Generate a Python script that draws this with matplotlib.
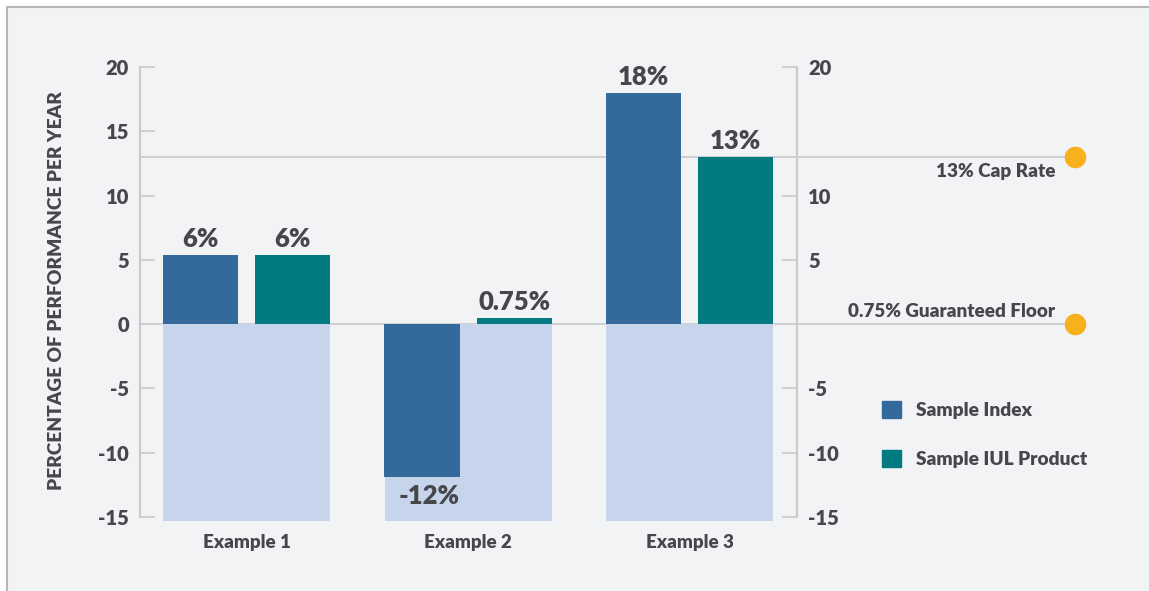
import matplotlib.pyplot as plt
import numpy as np
from matplotlib.patches import Patch, Rectangle
from matplotlib.lines import Line2D

categories = ['Example 1', 'Example 2', 'Example 3']
index_values = [5.4, -11.9, 18.0]
iul_values = [5.4, 0.45, 13.0]
index_labels = ['6%', '-12%', '18%']
iul_labels = ['6%', '0.75%', '13%']
range_low = -15.3
cap_rate = 13
floor_rate = 0
yticks_left = [-15, -10, -5, 0, 5, 10, 15, 20]
yticks_right = [-15, -10, -5, 5, 10, 20]

TEXT = '#45474B'
GRID = '#C9CACC'
BG = '#F2F3F5'
C_INDEX = '#34699C'
C_IUL = '#027B80'
C_RANGE = '#C6D4EC'
C_DOT = '#F8B01C'
W = 'heavy'

plt.rcParams['font.family'] = ['Lato', 'DejaVu Sans']
plt.rcParams['font.weight'] = W

fig = plt.figure(figsize=(11.49, 5.91), dpi=100)
fig.patch.set_facecolor('white')
# panel with a thin border on top/left
x0, y1 = 7 / 1149, 1 - 7 / 591
fig.patches.append(Rectangle((x0, 0), 1 - x0, y1, transform=fig.transFigure,
                             facecolor=BG, edgecolor='none', zorder=-10))
fig.lines.append(Line2D([x0, x0, 1], [0, y1, y1], transform=fig.transFigure,
                        color='#B5B6B8', lw=1.5, zorder=-9))

ax = fig.add_axes([140 / 1149, 74 / 591, 657 / 1149, 450 / 591])
ax.set_facecolor('none')

x = np.arange(len(categories))
bw = 0.339
off = 0.208

# light range bars behind each pair
ax.bar(x, [range_low] * len(x), width=0.754, color=C_RANGE, zorder=1, clip_on=False)

# reference lines for cap and floor
for val in (cap_rate, floor_rate):
    ax.plot([-0.481, 3.74], [val, val], color=GRID, lw=1.2, zorder=0.5, clip_on=False)
    ax.plot([3.74], [val], 'o', color=C_DOT, ms=14.5, zorder=3, clip_on=False)

ax.text(3.65, cap_rate - 0.45, '13% Cap Rate', ha='right', va='top',
        fontsize=13.6, color=TEXT, fontweight=W)
ax.text(3.65, floor_rate + 0.3, '0.75% Guaranteed Floor', ha='right', va='bottom',
        fontsize=13.6, color=TEXT, fontweight=W)

b1 = ax.bar(x - off, index_values, width=bw, color=C_INDEX, zorder=2)
b2 = ax.bar(x + off, iul_values, width=bw, color=C_IUL, zorder=2)

for rect, lab, v in zip(b1, index_labels, index_values):
    cx = rect.get_x() + rect.get_width() / 2
    if v >= 0:
        ax.annotate(lab, (cx, v), xytext=(0, 3), textcoords='offset points',
                    ha='center', va='bottom', fontsize=18.5, color=TEXT, fontweight=W)
    else:
        ax.annotate(lab, (cx + 0.03, v), xytext=(0, -5), textcoords='offset points',
                    ha='center', va='top', fontsize=18.5, color=TEXT, fontweight=W)
for rect, lab, v in zip(b2, iul_labels, iul_values):
    cx = rect.get_x() + rect.get_width() / 2
    ax.annotate(lab, (cx, v), xytext=(0, 3), textcoords='offset points',
                ha='center', va='bottom', fontsize=18.5, color=TEXT, fontweight=W)

ax.set_xlim(-0.481, 2.485)
ax.set_ylim(-15, 20)
ax.set_yticks(yticks_left)
ax.set_yticklabels([str(t) for t in yticks_left])
ax.set_xticks(x)
ax.set_xticklabels(categories)

ax2 = ax.twinx()
ax2.set_ylim(-15, 20)
ax2.set_yticks(yticks_right)
ax2.set_yticklabels([str(t) for t in yticks_right])

for a in (ax, ax2):
    for s in ('top', 'bottom'):
        a.spines[s].set_visible(False)
    for s in ('left', 'right'):
        a.spines[s].set_color(GRID)
        a.spines[s].set_linewidth(1.5)

ax.tick_params(axis='y', direction='in', length=11, width=1.2, color=GRID,
               labelsize=14.5, labelcolor=TEXT, pad=8)
ax2.tick_params(axis='y', direction='in', length=11, width=1.2, color=GRID,
                labelsize=14.5, labelcolor=TEXT, pad=8)
ax.tick_params(axis='x', length=0, labelsize=13.5, labelcolor=TEXT, pad=12)
for lab in ax.get_yticklabels() + ax.get_xticklabels() + ax2.get_yticklabels():
    lab.set_fontweight(W)

fig.text(57 / 1149, 1 - 291 / 591, 'PERCENTAGE OF PERFORMANCE PER YEAR', rotation=90,
         ha='center', va='center', fontsize=13.8, color=TEXT, fontweight=W)

handles = [Patch(color=C_INDEX, label='Sample Index'),
           Patch(color=C_IUL, label='Sample IUL Product')]
fig.legend(handles=handles, loc='upper left', bbox_to_anchor=(882 / 1149, 1 - 401 / 591),
           frameon=False, handlelength=1.0, handleheight=1.0,
           handletextpad=0.8, labelspacing=1.6, borderpad=0, borderaxespad=0,
           labelcolor=TEXT, prop={'weight': W, 'size': 13.8})

fig.savefig('out.png', dpi=100, facecolor=fig.get_facecolor())
